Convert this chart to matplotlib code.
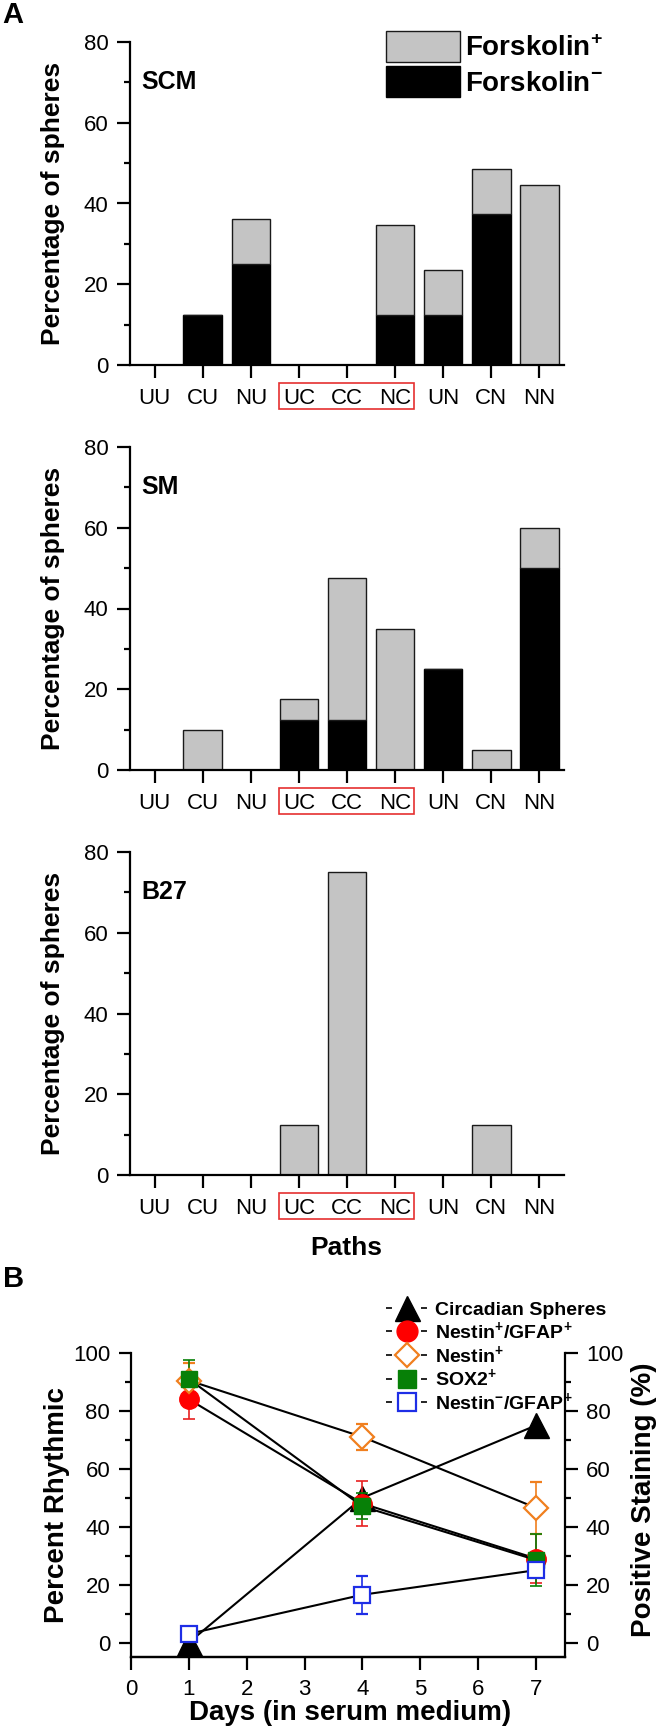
import matplotlib
matplotlib.use('Agg')
import matplotlib.pyplot as plt
import numpy as np
from matplotlib.patches import Rectangle
from matplotlib.lines import Line2D
from matplotlib.ticker import MultipleLocator
import matplotlib.transforms as mtransforms

plt.rcParams['font.family'] = ['Liberation Sans', 'DejaVu Sans']
plt.rcParams['lines.scale_dashes'] = False
plt.rcParams['mathtext.fontset'] = 'custom'
plt.rcParams['mathtext.rm'] = 'Liberation Sans'
plt.rcParams['mathtext.bf'] = 'Liberation Sans:bold'

# ---------------- data ----------------
paths = ['UU', 'CU', 'NU', 'UC', 'CC', 'NC', 'UN', 'CN', 'NN']
# Forskolin- (black, bottom) and Forskolin+ (gray, stacked on top)
scm_minus = [0, 12.5, 25, 0, 0, 12.5, 12.5, 37.5, 0]
scm_plus = [0, 0, 11.2, 0, 0, 22.1, 11.1, 11.0, 44.5]
sm_minus = [0, 0, 0, 12.5, 12.5, 0, 25, 0, 50]
sm_plus = [0, 10, 0, 5, 35, 35, 0, 5, 10]
b27_minus = [0, 0, 0, 0, 0, 0, 0, 0, 0]
b27_plus = [0, 0, 0, 12.5, 75, 0, 0, 12.5, 0]
panel_names = ['SCM', 'SM', 'B27']

days = [1, 4, 7]
circadian = [0, 50, 75]
nestin_gfap = [84, 48, 29]
nestin_gfap_err = [6.7, 7.8, 8.5]
nestin = [90.5, 71, 46.5]
nestin_err = [6, 4.5, 9]
sox2 = [91, 47, 28.5]
sox2_err = [6.7, 4.5, 9]
gfap_only = [3, 16.5, 25]
gfap_only_err = [1, 6.5, 2]

SUP_P = r'$^{\mathbf{+}}$'
SUP_M = r'$^{\mathbf{-}}$'

# ---------------- figure ----------------
W, H = 659, 1732
fig = plt.figure(figsize=(W / 100, H / 100), dpi=100)


def box(l, t, r, b):
    return [l / W, 1 - b / H, (r - l) / W, (b - t) / H]


def fx(x):
    return x / W


def fy(y):
    return 1 - y / H


TICK_FS = 16


def style_axes(ax):
    for s in ['top', 'right']:
        ax.spines[s].set_visible(False)
    for s in ['left', 'bottom']:
        ax.spines[s].set_linewidth(1.6)
    ax.tick_params(which='major', direction='out', length=9.5, width=1.6,
                   labelsize=TICK_FS, pad=6)
    ax.tick_params(which='minor', direction='out', length=4.5, width=1.6)


gray = '#c4c4c4'
tops = [42, 447, 852]
data_sets = [(scm_minus, scm_plus), (sm_minus, sm_plus), (b27_minus, b27_plus)]
axes_A = []
for i, (top, (mn, pl)) in enumerate(zip(tops, data_sets)):
    ax = fig.add_axes(box(130, top, 564, top + 323))
    x = np.arange(len(paths))
    bk = ax.bar(x, mn, width=0.8, color='black', edgecolor='black', lw=1.0)
    gr = ax.bar(x, pl, width=0.8, bottom=mn, color=gray, edgecolor='#1a1a1a',
                lw=1.0)
    ax.set_xlim(-0.51, 8.51)
    ax.set_ylim(0, 80)
    ax.yaxis.set_major_locator(MultipleLocator(20))
    ax.yaxis.set_minor_locator(MultipleLocator(10))
    ax.set_xticks(x)
    ax.set_xticklabels(paths)
    style_axes(ax)
    ax.tick_params(axis='x', pad=7)
    ax.text(0.027, 0.875, panel_names[i], transform=ax.transAxes,
            fontsize=18, fontweight='bold', ha='left', va='center')
    # red box around UC CC NC labels
    trans = mtransforms.blended_transform_factory(ax.transData, ax.transAxes)
    rect = Rectangle((2.59, -0.136), 5.40 - 2.59, 0.080, transform=trans,
                     fill=False, edgecolor='#e53030', lw=1.2, clip_on=False)
    ax.add_patch(rect)
    fig.text(fx(53), fy(top + 161.5), 'Percentage of spheres', rotation=90,
             ha='center', va='center', fontsize=19, fontweight='bold')
    axes_A.append((ax, bk, gr))

ax1, bk1, gr1 = axes_A[0]
fig.legend([gr1, bk1], ['Forskolin' + SUP_P, 'Forskolin' + SUP_M],
           loc='upper left', bbox_to_anchor=(fx(386), fy(31)),
           bbox_transform=fig.transFigure, frameon=False, borderpad=0,
           borderaxespad=0, handlelength=2.66, handleheight=1.33,
           labelspacing=0.15, handletextpad=0.2,
           prop=dict(weight='bold', size=20))

fig.text(fx(346), fy(1248), 'Paths', ha='center', va='center',
         fontsize=19, fontweight='bold')
fig.text(fx(2), fy(15), 'A', ha='left', va='center', fontsize=21,
         fontweight='bold')
fig.text(fx(3), fy(1279), 'B', ha='left', va='center', fontsize=21,
         fontweight='bold')

# ---------------- panel B ----------------
axB = fig.add_axes(box(131, 1353, 565, 1657))
axB2 = axB.twinx()
for a in (axB, axB2):
    a.set_xlim(0, 7.5)
    a.set_ylim(-5, 100)
    a.yaxis.set_major_locator(MultipleLocator(20))
    a.yaxis.set_minor_locator(MultipleLocator(10))
    a.spines['top'].set_visible(False)
    for s in ['left', 'right', 'bottom']:
        a.spines[s].set_linewidth(1.6)
    a.tick_params(which='major', direction='out', length=9, width=1.6,
                  labelsize=TICK_FS, pad=6)
    a.tick_params(which='minor', direction='out', length=4.5, width=1.6)
axB.spines['right'].set_visible(False)
axB2.spines['left'].set_visible(False)
axB.xaxis.set_major_locator(MultipleLocator(1))
axB.tick_params(axis='x', pad=7)

LW = 1.5
eb_kw = dict(capsize=4.3, elinewidth=1.2, capthick=1.2, lw=LW,
             color='black')
axB.plot(days, circadian, color='black', lw=LW, marker='^', ms=18,
         mfc='black', mec='black', clip_on=False, zorder=3)
axB2.errorbar(days, nestin_gfap, yerr=nestin_gfap_err, marker='o', ms=14,
              mfc='#ff0000', mec='#ff0000', ecolor='#e82020', **eb_kw)
axB2.errorbar(days, nestin, yerr=nestin_err, marker='D', ms=12,
              mfc='white', mec='#f07f1e', mew=1.6, ecolor='#f07f1e', **eb_kw)
axB2.errorbar(days, sox2, yerr=sox2_err, marker='s', ms=12,
              mfc='#078007', mec='#078007', ecolor='#078007', **eb_kw)
axB2.errorbar(days, gfap_only, yerr=gfap_only_err, marker='s', ms=12,
              mfc='white', mec='#1e2ee6', mew=1.6, ecolor='#1e2ee6', **eb_kw)

fig.text(fx(57), fy(1505), 'Percent Rhythmic', rotation=90, ha='center',
         va='center', fontsize=20, fontweight='bold')
fig.text(fx(644), fy(1500), 'Positive Staining (%)', rotation=90,
         ha='center', va='center', fontsize=20, fontweight='bold')
fig.text(fx(350), fy(1713), 'Days (in serum medium)', ha='center',
         va='center', fontsize=20, fontweight='bold')

dash = (0, (4.3, 20.9))
handles = [
    Line2D([], [], color='black', lw=1.2, ls=dash, marker='^', ms=18,
           mfc='black', mec='black'),
    Line2D([], [], color='black', lw=1.2, ls=dash, marker='o', ms=15,
           mfc='#ff0000', mec='#ff0000'),
    Line2D([], [], color='black', lw=1.2, ls=dash, marker='D', ms=12.5,
           mfc='white', mec='#f07f1e', mew=1.6),
    Line2D([], [], color='black', lw=1.2, ls=dash, marker='s', ms=13,
           mfc='#078007', mec='#078007'),
    Line2D([], [], color='black', lw=1.2, ls=dash, marker='s', ms=13,
           mfc='white', mec='#1e2ee6', mew=1.6),
]
labels = ['Circadian Spheres', 'Nestin' + SUP_P + '/GFAP' + SUP_P,
          'Nestin' + SUP_P, 'SOX2' + SUP_P, 'Nestin' + SUP_M + '/GFAP' + SUP_P]
fig.legend(handles, labels, loc='upper left',
           bbox_to_anchor=(fx(386), fy(1300)), bbox_transform=fig.transFigure,
           frameon=False, borderpad=0, borderaxespad=0, handlelength=2.2,
           handleheight=1.0, labelspacing=0.05, handletextpad=0.3,
           prop=dict(weight='bold', size=14))

fig.savefig('out.png', dpi=100)
